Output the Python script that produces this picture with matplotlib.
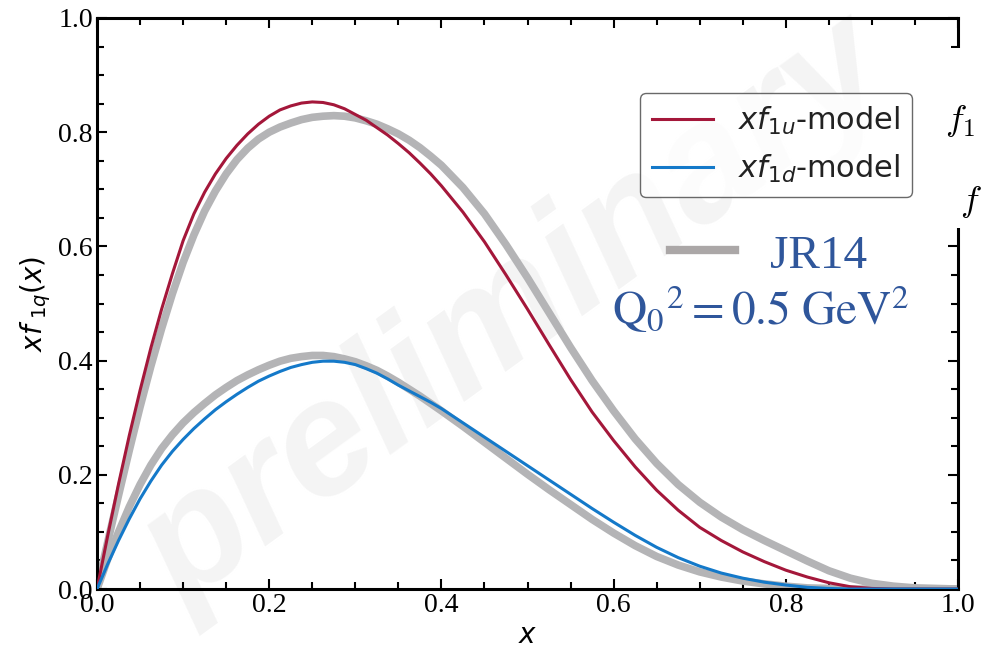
import matplotlib
matplotlib.use("Agg")
import matplotlib.pyplot as plt
from matplotlib.lines import Line2D
from matplotlib.patches import Rectangle
from matplotlib.ticker import MultipleLocator

# --- data ---
x = [0.0, 0.0125, 0.025, 0.0375, 0.05, 0.0625, 0.075, 0.0875, 0.1, 0.1125,
     0.125, 0.1375, 0.15, 0.1625, 0.175, 0.1875, 0.2, 0.2125, 0.225, 0.2375,
     0.25, 0.2625, 0.275, 0.2875, 0.3, 0.3125, 0.325, 0.3375, 0.35, 0.3625,
     0.375, 0.3875, 0.4,
     0.425, 0.45, 0.475, 0.5, 0.525, 0.55, 0.575, 0.6, 0.625, 0.65, 0.675,
     0.7, 0.725, 0.75, 0.775, 0.8, 0.825, 0.85, 0.875, 0.9, 0.925, 0.95, 1.0]

u_model = [0.0, 0.094, 0.184, 0.269, 0.348, 0.422, 0.490, 0.552, 0.610, 0.657,
           0.695, 0.727, 0.754, 0.777, 0.797, 0.814, 0.828, 0.839, 0.846, 0.851,
           0.853, 0.852, 0.848, 0.841, 0.831, 0.821, 0.808, 0.795, 0.780, 0.764,
           0.746, 0.727, 0.706,
           0.660, 0.608, 0.550, 0.490, 0.428, 0.367, 0.310, 0.260, 0.214, 0.173, 0.138,
           0.108, 0.085, 0.065, 0.048, 0.033, 0.021, 0.011, 0.004, 0.001, 0.0, 0.0, 0.0]

d_model = [0.0, 0.044, 0.085, 0.123, 0.158, 0.189, 0.217, 0.241, 0.262, 0.281,
           0.298, 0.314, 0.328, 0.341, 0.353, 0.364, 0.373, 0.381, 0.388, 0.393,
           0.397, 0.399, 0.399, 0.397, 0.393, 0.386, 0.378, 0.368, 0.357, 0.347,
           0.337, 0.327, 0.316,
           0.291, 0.266, 0.241, 0.216, 0.191, 0.166, 0.141, 0.117, 0.094, 0.073, 0.055,
           0.040, 0.028, 0.019, 0.012, 0.007, 0.003, 0.001, 0.0, 0.0, 0.0, 0.0, 0.0]

u_jr14 = [0.0, 0.083, 0.164, 0.243, 0.319, 0.390, 0.456, 0.517, 0.572, 0.620,
          0.662, 0.697, 0.727, 0.752, 0.772, 0.788, 0.800, 0.809, 0.816, 0.822,
          0.826, 0.828, 0.829, 0.828, 0.825, 0.820, 0.814, 0.806, 0.797, 0.786,
          0.773, 0.758, 0.742,
          0.703, 0.657, 0.603, 0.545, 0.484, 0.423, 0.365, 0.312, 0.263, 0.220, 0.183,
          0.152, 0.126, 0.104, 0.085, 0.067, 0.049, 0.032, 0.019, 0.010, 0.005, 0.002, 0.0]

d_jr14 = [0.0, 0.053, 0.100, 0.144, 0.183, 0.217, 0.246, 0.270, 0.291, 0.309,
          0.325, 0.340, 0.353, 0.365, 0.375, 0.384, 0.392, 0.399, 0.404, 0.407,
          0.409, 0.409, 0.407, 0.403, 0.398, 0.391, 0.383, 0.373, 0.362, 0.350,
          0.338, 0.325, 0.312,
          0.285, 0.257, 0.229, 0.201, 0.174, 0.148, 0.122, 0.098, 0.076, 0.057, 0.042,
          0.030, 0.021, 0.014, 0.009, 0.005, 0.002, 0.001, 0.0, 0.0, 0.0, 0.0, 0.0]

RED = '#a4173a'
BLUE = '#1479c9'
GRAY = '#b4b4b6'
TEXT_BLUE = '#2f569b'

fig = plt.figure(figsize=(9.82, 6.49), dpi=100)
ax = fig.add_axes([0.0988, 0.0924, 0.8768, 0.8799])

# faint watermark, behind the curves and the legend
ax.text(0.525, 0.515, 'preliminary', fontsize=118, family='Liberation Sans',
        weight='bold', style='italic', color='#f4f4f4', rotation=36,
        ha='center', va='center', transform=fig.transFigure, zorder=0.5,
        clip_on=False)

ax.plot(x, u_jr14, color=GRAY, lw=5.5, solid_capstyle='round',
        solid_joinstyle='round', zorder=2)
ax.plot(x, d_jr14, color=GRAY, lw=5.5, solid_capstyle='round',
        solid_joinstyle='round', zorder=2)
ax.plot(x, u_model, color=RED, lw=2.2, solid_joinstyle='round',
        label=r'$xf_{1u}$-model', zorder=3)
ax.plot(x, d_model, color=BLUE, lw=2.2, solid_joinstyle='round',
        label=r'$xf_{1d}$-model', zorder=3)

ax.set_xlim(0, 1)
ax.set_ylim(0, 1)
ax.xaxis.set_major_locator(MultipleLocator(0.2))
ax.yaxis.set_major_locator(MultipleLocator(0.2))
ax.xaxis.set_minor_locator(MultipleLocator(0.05))
ax.yaxis.set_minor_locator(MultipleLocator(0.05))
ax.tick_params(which='both', direction='in', top=True, right=True, width=1.5)
ax.tick_params(which='major', length=7, pad=3)
ax.tick_params(which='minor', length=5)
for lab in ax.get_xticklabels() + ax.get_yticklabels():
    lab.set_family('Liberation Serif')
    lab.set_fontsize(20)
for sp in ax.spines.values():
    sp.set_linewidth(2.2)

ax.set_xlabel(r'$x$', fontsize=20, labelpad=2)
ax.set_ylabel(r'$xf_{\ 1q}(x)$', fontsize=20, labelpad=4)

leg = ax.legend(loc='upper right', bbox_to_anchor=(0.9466, 0.8687),
                borderaxespad=0, fontsize=22, handlelength=2.0,
                edgecolor='#444444', framealpha=0.8, fancybox=True,
                labelcolor='#222222')
leg.get_frame().set_linewidth(1.0)
leg.set_zorder(5)

# slide overlay: white patch over the right spine, stray labels, JR14 key
fig.add_artist(Rectangle((0.955, 0.648), 0.05, 0.278, transform=fig.transFigure,
                         facecolor='white', edgecolor='none', zorder=5))
fig.text(0.962, 0.80, r'$f_1$', fontsize=26, math_fontfamily='cm', zorder=6)
fig.text(0.978, 0.675, r'$f$', fontsize=26, math_fontfamily='cm', zorder=6)

fig.add_artist(Line2D([0.682, 0.748], [0.615, 0.615], transform=fig.transFigure,
                      color='#aba7a7', lw=6, zorder=6))
fig.text(0.784, 0.587, 'JR14', fontsize=34, family='Liberation Serif',
         color=TEXT_BLUE, zorder=6)
fig.text(0.623, 0.499, r'$\mathrm{Q_0}^2 = 0.5\ \mathrm{GeV}^2$', fontsize=34,
         math_fontfamily='stix', color=TEXT_BLUE, zorder=6)

fig.savefig('out.png', dpi=100)
